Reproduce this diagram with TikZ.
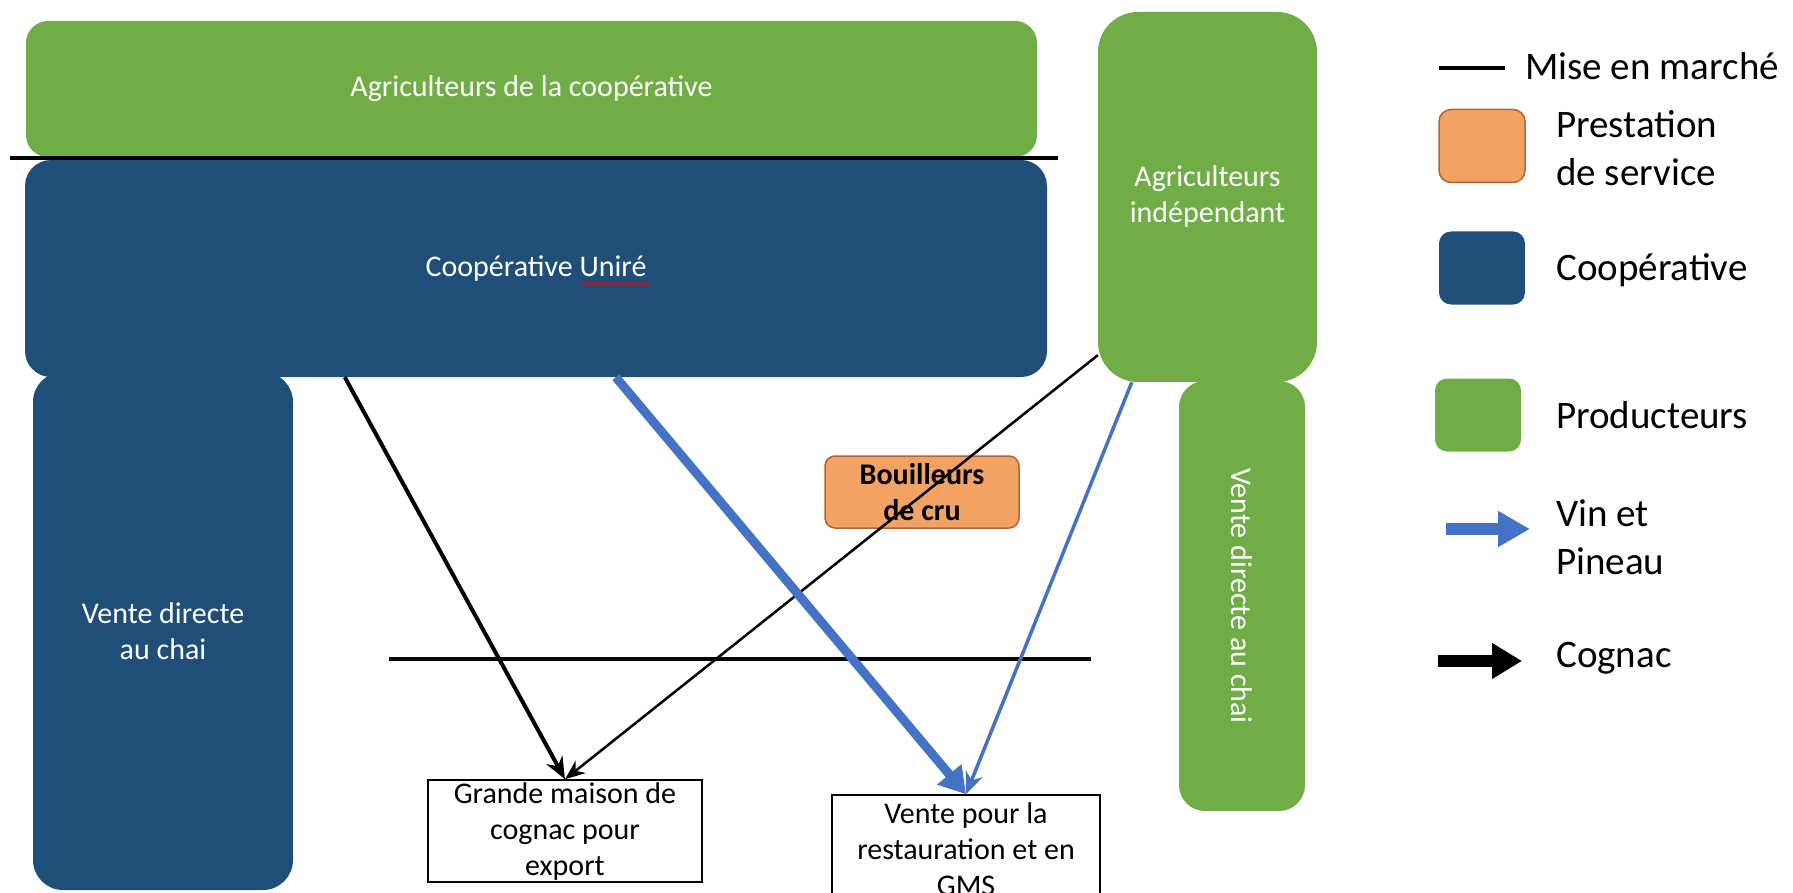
\documentclass[tikz,border=0pt]{standalone}
\usepackage{fontspec}
\setmainfont{Carlito}
\usetikzlibrary{arrows.meta,decorations.pathmorphing}

\definecolor{prodgreen}{RGB}{112,173,71}
\definecolor{coopblue}{RGB}{31,78,121}
\definecolor{prestorange}{RGB}{242,163,100}
\definecolor{prestedge}{RGB}{176,102,52}
\definecolor{vinblue}{RGB}{68,114,196}

\newcommand{\boxfont}{\fontsize{30}{36}\selectfont}
\newcommand{\legfont}{\fontsize{39}{48}\selectfont}

\begin{document}
\begin{tikzpicture}[x = 1pt, y = -1pt,
  prodbox/.style = {fill = prodgreen, text = white, align = center, inner sep = 0pt, font = \boxfont},
  coopbox/.style = {fill = coopblue, text = white, align = center, inner sep = 0pt, font = \boxfont},
  prestbox/.style = {fill = prestorange, draw = prestedge, line width = 1.5pt, rounded corners = 10pt, align = center, inner sep = 0pt, font = \boxfont\bfseries},
  salebox/.style = {draw, line width = 1.5pt, align = center, inner sep = 0pt, font = \boxfont},
  legsquare/.style = {minimum width = 86pt, minimum height = 73pt, rounded corners = 12pt, inner sep = 0pt},
  legtext/.style = {anchor = west, align = left, inner sep = 0pt, font = \legfont},
  cognac/.style = {line width = 4pt, -{Stealth[length = 22pt, width = 18pt]}},
  vin/.style = {color = vinblue, line width = 3.5pt, -{Stealth[length = 22pt, width = 18pt]}}]
\useasboundingbox (0, 0) rectangle (1793, 893);

% producteurs et cooperative
\node[prodbox, rounded corners = 22pt, minimum width = 1011pt, minimum height = 136pt] (agricoop) at (531.5, 89) {Agriculteurs de la coopérative};
\node[coopbox, rounded corners = 30pt, minimum width = 260pt, minimum height = 518pt] (chaicoop) at (163, 631) {Vente directe\\au chai};
\node[coopbox, rounded corners = 26pt, minimum width = 1022pt, minimum height = 217pt] (coop) at (536, 268.5) {Coopérative Uniré};
\draw[red, line width = 1pt, decorate, decoration = {snake, amplitude = 1.2pt, segment length = 4pt}] (581, 284) -- (650, 284);
\node[prodbox, rounded corners = 26pt, minimum width = 126pt, minimum height = 430pt] (chaiprod) at (1242, 596) {};
\node[prodbox, rounded corners = 40pt, minimum width = 219pt, minimum height = 370pt] (agriind) at (1207.5, 197) {Agriculteurs\\indépendant};
\node[rotate = -90, text = white, font = \boxfont] (chaitext) at (chaiprod.center) {Vente directe au chai};

% mise en marche
\draw[line width = 4pt] (10, 158) -- (1058, 158);
\draw[line width = 3.5pt] (389, 659) -- (1091, 659);

\node[prestbox, minimum width = 194pt, minimum height = 72pt] (bouilleurs) at (922, 492) {Bouilleurs\\de cru};
\node[salebox, minimum width = 274pt, minimum height = 102pt] (grande) at (565, 831) {Grande maison de\\cognac pour\\export};
\node[salebox, minimum width = 268pt, minimum height = 108pt] (vente) at (966, 849) {Vente pour la\\restauration et en\\GMS};

% flux
\draw[cognac] ([xshift = 320pt]coop.south west) -- (grande.north);
\draw[line width = 2.5pt, -{Stealth[length = 20pt, width = 16pt]}] ([yshift = 27pt]agriind.south west) -- (grande.north);
\draw[vin, line width = 9pt, -{Triangle[length = 26pt, width = 30pt]}] ([xshift = 591pt]coop.south west) -- (vente.north);
\draw[vin] ([xshift = 34pt]agriind.south west) -- (vente.north);

% legende
\coordinate (lmise) at (1439, 68);
\draw[line width = 4pt] (lmise) -- ++(66, 0);
\node[legtext] (tmise) at (1525, 66) {Mise en marché};
\node[legsquare, fill = prestorange, draw = prestedge, line width = 1.5pt] (lprest) at (1482, 146) {};
\node[legtext] (tprest) at (1556, 148) {Prestation\\de service};
\node[legsquare, fill = coopblue] (lcoop) at (1482, 268) {};
\node[legtext] (tcoop) at (1556, 270) {Coopérative};
\node[legsquare, fill = prodgreen] (lprod) at (1478, 415) {};
\node[legtext] (tprod) at (1556, 415) {Producteurs};
\coordinate (lvin) at (1446, 529);
\draw[color = vinblue, line width = 12pt, -{Triangle[length = 32pt, width = 34pt]}] (lvin) -- ++(84, 0);
\node[legtext] (tvin) at (1556, 537) {Vin et\\Pineau};
\coordinate (lcog) at (1438, 661);
\draw[line width = 12pt, -{Triangle[length = 30pt, width = 34pt]}] (lcog) -- ++(84, 0);
\node[legtext] (tcog) at (1556, 658) {Cognac};
\end{tikzpicture}
\end{document}
